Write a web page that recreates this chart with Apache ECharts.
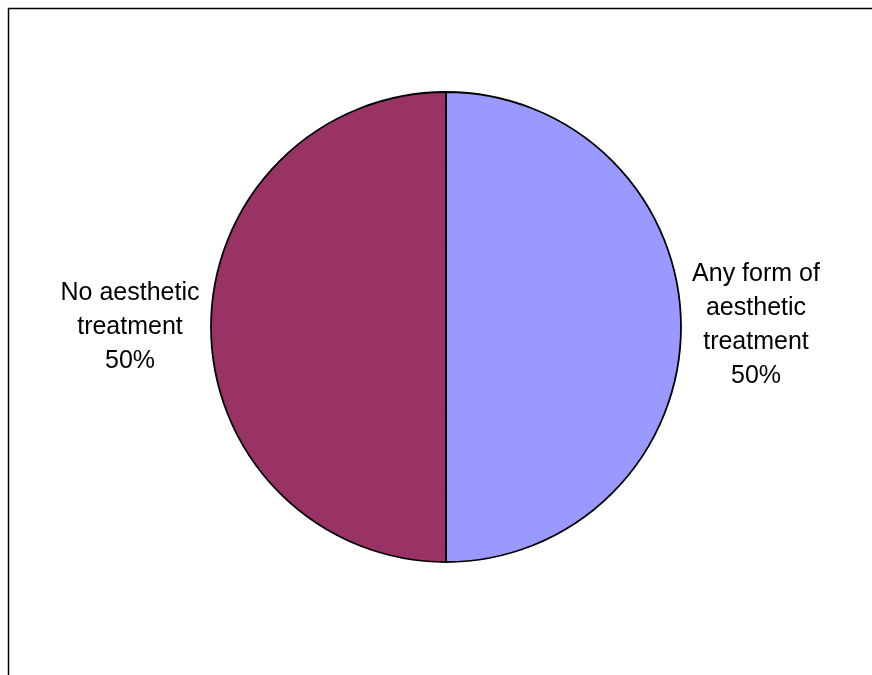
<!DOCTYPE html>
<html><head><meta charset="utf-8">
<script src="https://cdn.jsdelivr.net/npm/echarts@6/dist/echarts.min.js"></script>
<style>html,body{margin:0;padding:0;background:#fff}#c{width:872px;height:675px}</style>
</head><body><div id="c"></div>
<script>
const categories = ['Any form of\naesthetic\ntreatment', 'No aesthetic\ntreatment'];
const values = [50, 50];
const colors = ['#9999FF', '#993366'];
const labelCenters = [[756, 325], [130, 327]];

const chart = echarts.init(document.getElementById('c'), null, {renderer: 'canvas'});
chart.setOption({
  animation: false,
  backgroundColor: '#fff',
  graphic: [{
    type: 'rect', silent: true,
    shape: {x: 8.5, y: 8.5, width: 1000, height: 1000},
    style: {fill: 'none', stroke: '#000', lineWidth: 1.5}
  }],
  series: [{
    type: 'pie',
    center: [446, 327],
    radius: [0, 235],
    startAngle: 90,
    clockwise: true,
    data: categories.map((c, i) => ({name: c, value: values[i], itemStyle: {color: colors[i]}})),
    itemStyle: {borderColor: '#000', borderWidth: 1.8},
    label: {
      show: true, position: 'outside',
      formatter: p => p.name + '\n' + Math.round(p.percent) + '%',
      fontFamily: 'Liberation Sans, Arial, sans-serif',
      fontSize: 25, lineHeight: 34, color: '#000', align: 'center'
    },
    labelLine: {show: false},
    labelLayout: p => ({x: labelCenters[p.dataIndex][0], y: labelCenters[p.dataIndex][1], align: 'center', verticalAlign: 'middle'}),
    emphasis: {disabled: true}
  }]
});
</script></body></html>
